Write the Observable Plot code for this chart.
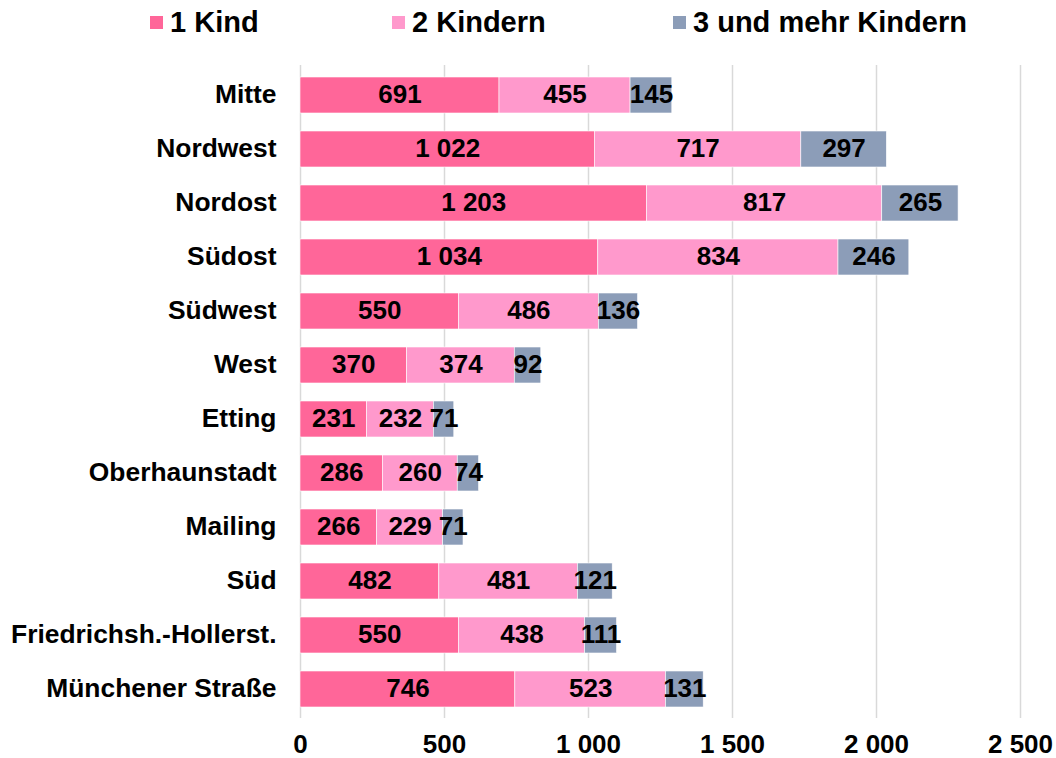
<!DOCTYPE html>
<html>
<head>
<meta charset="utf-8">
<script src="https://cdn.jsdelivr.net/npm/d3@7"></script>
<script src="https://cdn.jsdelivr.net/npm/@observablehq/plot@0.6"></script>
<style>
  body { margin: 0; background: #fff; font-family: "Liberation Sans", Arial, sans-serif; }
  #legend { position: relative; height: 45px; width: 1056px; }
  .item { position: absolute; top: 0; height: 45px; display: flex; align-items: center; font-size: 29px; font-weight: bold; color: #000; }
  .swatch { width: 13px; height: 13px; margin-right: 7px; }
  svg { display: block; }
</style>
</head>
<body>
<div id="legend"></div>
<div id="chart"></div>
<script>
// Stadtbezirke, top to bottom
const districts = ["Mitte", "Nordwest", "Nordost", "Südost", "Südwest", "West", "Etting",
  "Oberhaunstadt", "Mailing", "Süd", "Friedrichsh.-Hollerst.", "Münchener Straße"];

// Households by number of children
const series = ["1 Kind", "2 Kindern", "3 und mehr Kindern"];
const oneChild   = [691, 1022, 1203, 1034, 550, 370, 231, 286, 266, 482, 550, 746];
const twoChildren = [455, 717, 817, 834, 486, 374, 232, 260, 229, 481, 438, 523];
const threePlus  = [145, 297, 265, 246, 136, 92, 71, 74, 71, 121, 111, 131];

const colors = ["#ff6699", "#ff99cc", "#8c9db8"];
const xTicks = [0, 500, 1000, 1500, 2000, 2500];

const seriesValues = [oneChild, twoChildren, threePlus];
const rows = [];
districts.forEach((d, i) => {
  series.forEach((s, j) => rows.push({district: d, series: s, value: seriesValues[j][i]}));
});

// German-style grouping with a space as thousands separator
const fmt = d3.formatLocale({decimal: ",", thousands: " ", grouping: [3], currency: ["", ""]}).format(",");

// Legend
const legend = document.getElementById("legend");
const legendX = [150, 392, 673];
series.forEach((s, j) => {
  const item = document.createElement("div");
  item.className = "item";
  item.style.left = legendX[j] + "px";
  const sw = document.createElement("span");
  sw.className = "swatch";
  sw.style.background = colors[j];
  item.appendChild(sw);
  item.appendChild(document.createTextNode(s));
  legend.appendChild(item);
});

const chart = Plot.plot({
  width: 1056,
  height: 713,
  marginLeft: 300,
  marginRight: 36,
  marginTop: 20,
  marginBottom: 40,
  style: {fontFamily: "'Liberation Sans', Arial, sans-serif", fontSize: "26px", fontWeight: "bold", color: "#000", background: "#fff"},
  x: {domain: [0, 2500], axis: null},
  y: {domain: districts, paddingInner: 0.335, paddingOuter: 0.2, axis: null},
  color: {domain: series, range: colors},
  marks: [
    Plot.gridX(xTicks, {stroke: "#d9d9d9", strokeOpacity: 1, strokeWidth: 1.5}),
    Plot.barX(rows, {x: "value", y: "district", fill: "series", order: series, stroke: "#fff", strokeWidth: 0.6}),
    Plot.text(rows, Plot.stackX({x: "value", y: "district", z: "series", order: series,
      text: d => fmt(d.value), fill: "#000", fontSize: 26, fontWeight: "bold", dy: -1})),
    Plot.axisY({tickSize: 0, tickPadding: 24, fontSize: 26.4, fontWeight: "bold", label: null, dy: -1}),
    Plot.axisX(xTicks, {tickSize: 0, tickPadding: 16, tickFormat: fmt, fontSize: 26, fontWeight: "bold", label: null})
  ]
});
document.getElementById("chart").appendChild(chart);
</script>
</body>
</html>
